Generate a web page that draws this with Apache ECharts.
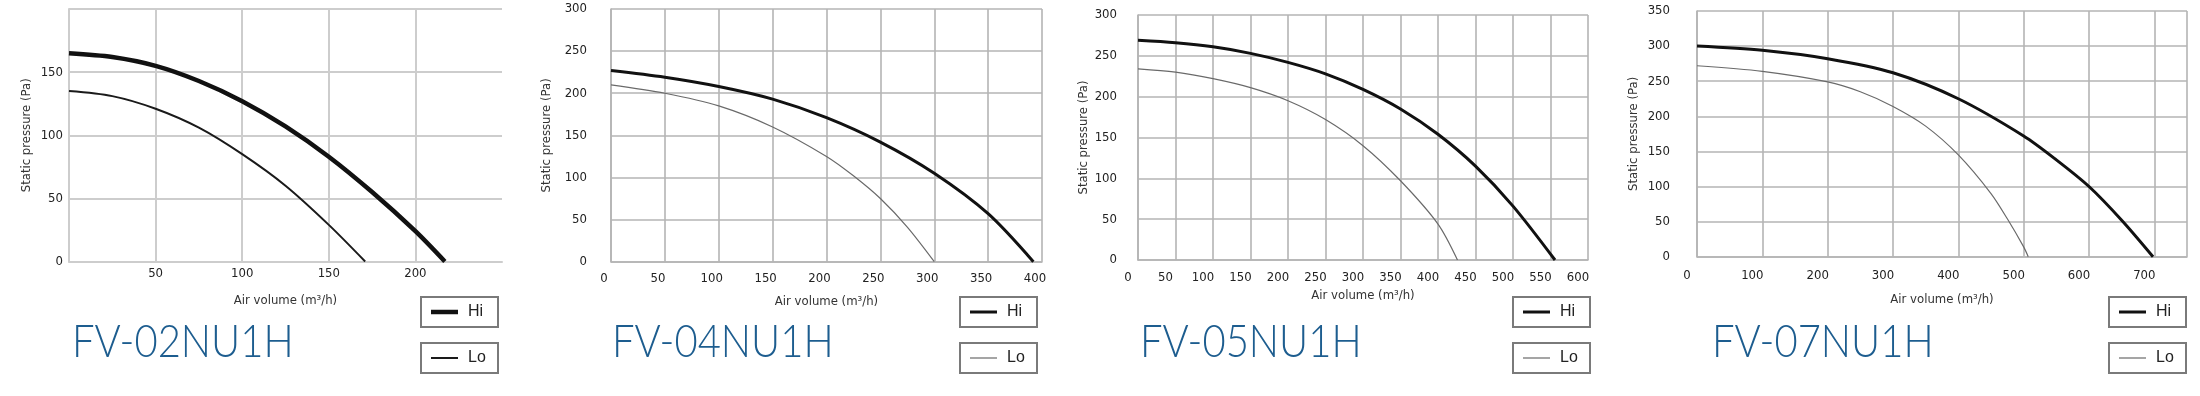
<!DOCTYPE html>
<html>
<head>
<meta charset="utf-8">
<script src="https://cdn.jsdelivr.net/npm/echarts@6/dist/echarts.min.js"></script>
<style>
  html, body { margin: 0; padding: 0; background: #fff; }
  #fanCurves { width: 2200px; height: 396px; }
</style>
</head>
<body>
<div id="fanCurves"></div>
<script>
// fan curves, [air volume m3/h, static pressure Pa]
const models = ['FV-02NU1H', 'FV-04NU1H', 'FV-05NU1H', 'FV-07NU1H'];

const fv02Hi = [[0,165],[25,162],[50,155],[75,143],[100,127],[125,107],[150,83],[175,55],[200,24],[217,0]];
const fv02Lo = [[0,135],[25,131],[50,121],[75,106],[100,85],[125,60],[150,29],[171,0]];

const fv04Hi = [[0,227],[50,219],[100,208],[150,193],[200,171],[250,142],[300,105],[350,57],[392,0]];
const fv04Lo = [[0,210],[50,200],[100,185],[150,160],[200,125],[225,102],[250,75],[275,41],[300,0]];

const fv05Hi = [[0,269],[50,266],[100,261],[150,253],[200,242],[250,228],[300,209],[350,185],[400,154],[450,115],[500,66],[556,0]];
const fv05Lo = [[0,234],[50,230],[100,222],[150,211],[200,195],[250,172],[300,140],[350,97],[400,44],[426,0]];

const fv07Hi = [[0,300],[100,294],[200,282],[300,262],[400,225],[500,172],[550,138],[600,100],[650,52],[698,0]];
const fv07Lo = [[0,272],[100,264],[200,249],[250,235],[300,214],[350,186],[400,145],[450,90],[475,54],[500,14],[507,0]];

const hiData = [fv02Hi, fv04Hi, fv05Hi, fv07Hi];
const loData = [fv02Lo, fv04Lo, fv05Lo, fv07Lo];

// axis extents: [max, interval]
const xAxes = [[250, 50], [400, 50], [600, 50], [750, 100]];
const yAxes = [[200, 50], [300, 50], [300, 50], [350, 50]];

// labels that the original leaves out
const hiddenX = [[0, 250], [], [], [750]];
const hiddenY = [[200], [], [], []];

const xName = 'Air volume (m\u00b3/h)';
const yName = 'Static pressure (Pa)';

// layout of each panel (pixels)
const panels = [
  { left: 69,   top: 9,  width: 433, height: 252.5, grid: '#cdcdcd', gridW: 2,   hiW: 4.5, loW: 2,   loColor: '#1a1a1a',
    yGap: 36, yMargin: 6,  xGap: 33, xMargin: 6,  xShift: 0,  rightLine: false, legendLeft: 421,  titleLeft: 72 },
  { left: 611,  top: 9,  width: 431, height: 252.7, grid: '#b4b4b4', gridW: 1.6, hiW: 3,   loW: 1.2, loColor: '#6a6a6a',
    yGap: 58, yMargin: 24, xGap: 33, xMargin: 10, xShift: 7,  rightLine: true,  legendLeft: 960,  titleLeft: 612 },
  { left: 1138, top: 15, width: 450, height: 245,   grid: '#b4b4b4', gridW: 1.6, hiW: 3,   loW: 1.2, loColor: '#6a6a6a',
    yGap: 48, yMargin: 21, xGap: 28, xMargin: 11, xShift: 10, rightLine: true,  legendLeft: 1513, titleLeft: 1140 },
  { left: 1697, top: 11, width: 490, height: 245.7, grid: '#b4b4b4', gridW: 1.6, hiW: 3,   loW: 1.2, loColor: '#6a6a6a',
    yGap: 57, yMargin: 27, xGap: 36, xMargin: 12, xShift: 10, rightLine: true,  legendLeft: 2109, titleLeft: 1712 }
];

const labelFont = '"Liberation Sans Narrow", "DejaVu Sans Condensed", "Liberation Sans", sans-serif';

const grids = [], xs = [], ys = [], series = [], legends = [], graphics = [];

panels.forEach((p, i) => {
  grids.push({ left: p.left, top: p.top, width: p.width, height: p.height });

  const gridLine = { show: true, lineStyle: { color: p.grid, width: p.gridW } };

  xs.push({
    type: 'value', gridIndex: i, min: 0, max: xAxes[i][0], interval: xAxes[i][1],
    name: xName, nameLocation: 'middle', nameGap: p.xGap,
    nameTextStyle: { fontSize: 13, color: '#333', fontFamily: labelFont },
    axisLine: gridLine, axisTick: { show: false },
    splitLine: Object.assign({ showMaxLine: p.rightLine }, gridLine),
    axisLabel: {
      fontSize: 13, color: '#222', fontFamily: labelFont, margin: p.xMargin,
      padding: [0, p.xShift * 2, 0, 0],
      formatter: v => hiddenX[i].includes(v) ? '' : String(v)
    }
  });

  ys.push({
    type: 'value', gridIndex: i, min: 0, max: yAxes[i][0], interval: yAxes[i][1],
    name: yName, nameLocation: 'middle', nameGap: p.yGap, nameRotate: 90,
    nameTextStyle: { fontSize: 13, color: '#333', fontFamily: labelFont },
    axisLine: gridLine, axisTick: { show: false }, splitLine: gridLine,
    axisLabel: {
      fontSize: 13, color: '#222', fontFamily: labelFont, margin: p.yMargin,
      formatter: v => hiddenY[i].includes(v) ? '' : String(v)
    }
  });

  series.push({
    name: 'Hi', type: 'line', xAxisIndex: i, yAxisIndex: i, data: hiData[i],
    symbol: 'none', smooth: 0.3, color: '#111',
    lineStyle: { color: '#111', width: p.hiW }
  });
  series.push({
    name: 'Lo', type: 'line', xAxisIndex: i, yAxisIndex: i, data: loData[i],
    symbol: 'none', smooth: 0.3, color: p.loColor,
    lineStyle: { color: p.loColor, width: p.loW }
  });

  // model name, squeezed a little like the original lettering
  graphics.push({
    type: 'text', x: p.titleLeft, y: 319, scaleX: 0.87, silent: true,
    style: { text: models[i], font: '300 46px Lato, "Open Sans", sans-serif', fill: '#1d5d8f', textVerticalAlign: 'top' }
  });

  ['Hi', 'Lo'].forEach((name, k) => {
    const w = k === 0 ? p.hiW : p.loW;
    legends.push({
      data: [name], left: p.legendLeft, top: k === 0 ? 297 : 343,
      selectedMode: false, icon: 'rect', itemWidth: 27, itemHeight: w,
      borderColor: '#7a7a7a', borderWidth: 2, borderRadius: 0,
      padding: [6, 8, 6, 10],
      itemStyle: { color: k === 0 ? '#111' : p.loColor, borderWidth: 0 },
      textStyle: { fontSize: 16, color: '#222', fontFamily: '"Liberation Sans", Arial, sans-serif',
                   width: 22, height: 18, lineHeight: 18, padding: [0, 0, 0, 5] }
    });
  });
});

const chart = echarts.init(document.getElementById('fanCurves'));
chart.setOption({
  backgroundColor: '#fff',
  animation: false,
  legend: legends,
  grid: grids,
  xAxis: xs,
  yAxis: ys,
  graphic: graphics,
  series: series
});
</script>
</body>
</html>
